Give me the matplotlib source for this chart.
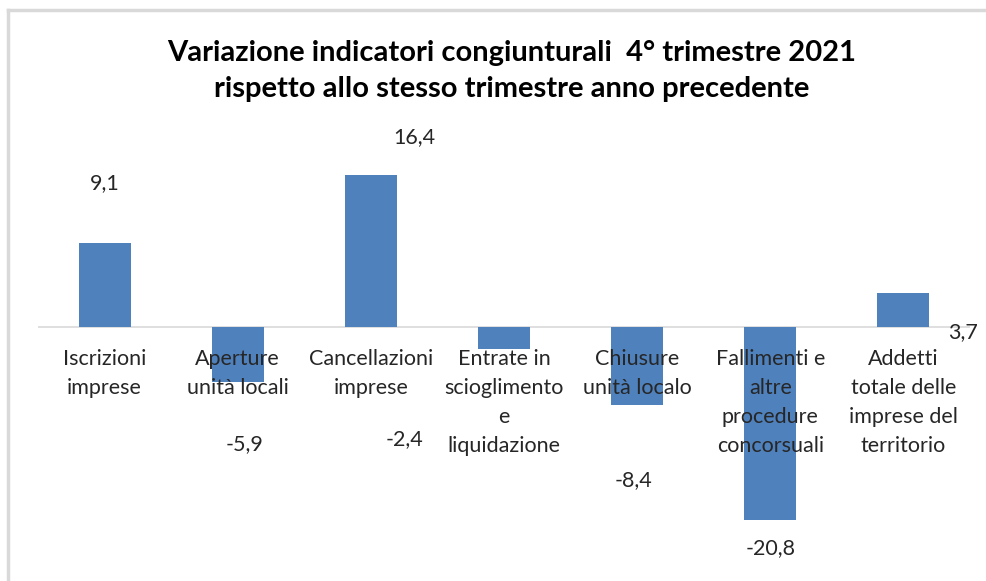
import matplotlib.pyplot as plt
from matplotlib.lines import Line2D

# data
categories = ['Iscrizioni\nimprese', 'Aperture\nunità locali', 'Cancellazioni\nimprese',
              'Entrate in\nscioglimento\ne\nliquidazione', 'Chiusure\nunità localo',
              'Fallimenti e\naltre\nprocedure\nconcorsuali', 'Addetti\ntotale delle\nimprese del\nterritorio']
values = [9.1, -5.9, 16.4, -2.4, -8.4, -20.8, 3.7]
value_labels = ['9,1', '-5,9', '16,4', '-2,4', '-8,4', '-20,8', '3,7']

# where the value labels sit (data coords), as in the original chart
label_pos = [(0.0, 15.5), (1.055, -12.6), (2.33, 20.5), (2.25, -12.1),
             (3.97, -16.5), (5.0, -23.85), (6.45, -0.6)]

plt.rcParams['font.family'] = ['Lato', 'DejaVu Sans']

fig = plt.figure(figsize=(9.86, 5.81), dpi=100)
W, H = 986, 581
ax = fig.add_axes([38 / W, 22.25 / H, 932 / W, 417.15 / H])

x = range(len(values))
ax.bar(x, values, width=0.39, color='#4f81bd', zorder=2)
ax.axhline(0, color='#d9d9d9', linewidth=1.2, zorder=1)

ax.set_xlim(-0.5, 6.5)
ax.set_ylim(-25, 20)
ax.axis('off')

for (lx, ly), txt in zip(label_pos, value_labels):
    ax.text(lx, ly, txt, ha='center', va='center', fontsize=15.5, color='#262626', clip_on=False)

for i, cat in enumerate(categories):
    ax.text(i, -2.4, cat, ha='center', va='top', fontsize=15.5, color='#262626',
            linespacing=1.55, zorder=3, clip_on=False)

fig.text(512 / W, 1 - 71 / H,
         'Variazione indicatori congiunturali  4° trimestre 2021\nrispetto allo stesso trimestre anno precedente',
         ha='center', va='center', fontsize=21, fontweight='bold', color='black', linespacing=1.45)

# chart border (top and left edges visible)
fig.add_artist(Line2D([8 / W, 1], [1 - 10 / H, 1 - 10 / H], color='#d9d9d9', linewidth=2.5,
                      transform=fig.transFigure))
fig.add_artist(Line2D([8 / W, 8 / W], [0, 1 - 10 / H], color='#d9d9d9', linewidth=2.5,
                      transform=fig.transFigure))

plt.savefig('out.png', dpi=100)
